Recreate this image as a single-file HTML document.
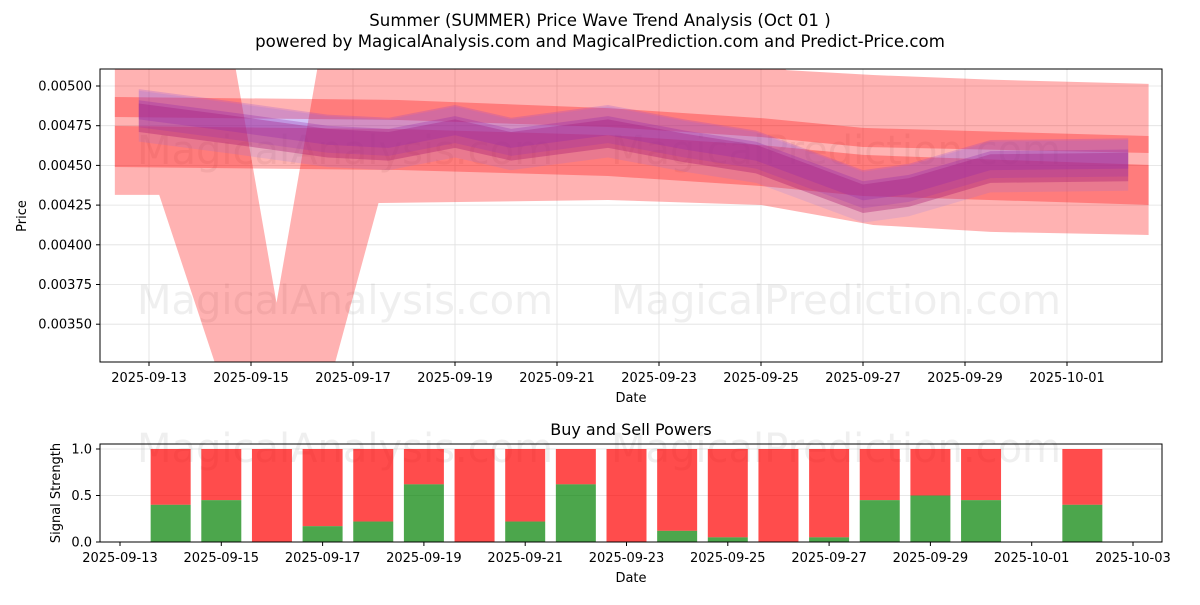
<!DOCTYPE html>
<html><head><meta charset="utf-8"><style>
body{margin:0;background:#fff;}
svg text{font-family:"DejaVu Sans","Liberation Sans",sans-serif;}
</style></head><body>
<svg id="chart" width="1200" height="600" viewBox="0 0 1200 600" xmlns="http://www.w3.org/2000/svg">
<defs>
<clipPath id="topclip"><rect x="100" y="69" width="1062" height="293"/></clipPath>
</defs>
<rect width="1200" height="600" fill="#fff"/>
<text x="600" y="26" text-anchor="middle" font-size="16.6">Summer (SUMMER) Price Wave Trend Analysis (Oct 01 )</text>
<text x="600" y="47" text-anchor="middle" font-size="16.6">powered by MagicalAnalysis.com and MagicalPrediction.com and Predict-Price.com</text>
<g id="topPanel"></g>
<g id="bottomPanel"></g>
</svg>
<script>
// ---- price panel data ----
const priceTicks = [0.0050,0.00475,0.0045,0.00425,0.0040,0.00375,0.0035];
const priceTickLabels = ["0.00500","0.00475","0.00450","0.00425","0.00400","0.00375","0.00350"];
const dateTickDays = [0,2,4,6,8,10,12,14,16,18,20];
const dateTickLabels = ["2025-09-13","2025-09-15","2025-09-17","2025-09-19","2025-09-21","2025-09-23","2025-09-25","2025-09-27","2025-09-29","2025-10-01"];
// wide light band: outline (upper edge follows the V, lower edge follows its arms)
const wideUpperDays = [-0.67,1.65,2.5,3.35,9,12,12.5,14.2,16.5,19.6];
const wideUpper = [0.0052,0.0052,0.003635,0.0052,0.0052,0.0052,0.0051,0.005069,0.00504,0.005013];
const wideLowerDays = [19.6,16.5,14.2,12,9,4.5,3.6,1.35,0.2,-0.67];
const wideLower = [0.004062,0.004081,0.004125,0.004251,0.004282,0.004263,0.0032,0.0032,0.004314,0.004314];
// dark bands
const bandDays = [-0.67,4.9,9,12,14,19.6];
const band1Upper = [0.004931,0.004912,0.004861,0.004798,0.004736,0.004685];
const band1Lower = [0.004805,0.004786,0.004742,0.004679,0.004616,0.004578];
const band2Upper = [0.004748,0.004729,0.004691,0.004628,0.004566,0.004503];
const band2Lower = [0.00449,0.004471,0.004433,0.00437,0.004307,0.004251];
// wave center line
const waveDays = [-0.2,1.7,3.5,4.7,6,7.1,9,10.5,11.9,14,14.9,16.5,19.2];
const waveCenter = [0.00484,0.00476,0.00468,0.00466,0.00474,0.00466,0.00474,0.00465,0.00458,0.00433,0.00437,0.00452,0.00453];
// ---- signal panel data ----
const barDays = [1,2,3,4,5,6,7,8,9,10,11,12,13,14,15,16,17,19];
const buyPower = [0.4,0.45,0,0.17,0.22,0.62,0,0.22,0.62,0,0.12,0.05,0,0.05,0.45,0.5,0.45,0.4];
const sigTicks = [0,0.5,1.0];
const sigTickLabels = ["0.0","0.5","1.0"];
const sigDateLabels = ["2025-09-13","2025-09-15","2025-09-17","2025-09-19","2025-09-21","2025-09-23","2025-09-25","2025-09-27","2025-09-29","2025-10-01","2025-10-03"];

const NS="http://www.w3.org/2000/svg";
function mk(parent,tag,attrs,text){const e=document.createElementNS(NS,tag);for(const k in attrs)e.setAttribute(k,attrs[k]);if(text!==undefined)e.textContent=text;parent.appendChild(e);return e;}
const px=d=>149+51*d;
const py=v=>86+(0.005-v)/0.001*158.8;
const bx=d=>120+50.65*d;
const by=v=>542-v*93;

const topG=document.getElementById('topPanel');
dateTickDays.slice(0,10).forEach(d=>{const l=mk(topG,'line',{x1:px(d),x2:px(d),y1:69,y2:362,stroke:'#e0e0e0','stroke-width':0.8});

});
priceTicks.forEach(v=>{const l=mk(topG,'line',{x1:100,x2:1162,y1:py(v),y2:py(v),stroke:'#e0e0e0','stroke-width':0.8});

});
[[345,150],[836,150],[345,300],[836,300]].forEach((p,i)=>{const t=mk(topG,'text',{x:p[0],y:p[1]+14,'text-anchor':'middle','font-size':40,fill:'rgba(128,128,128,0.13)'},i%2?'MagicalPrediction.com':'MagicalAnalysis.com');

});
const g=mk(topG,'g',{'clip-path':'url(#topclip)'});
function bandPath(days,up,lo){let s='';days.forEach((d,i)=>{s+=(i?'L':'M')+px(d)+','+py(up[i]);});for(let i=days.length-1;i>=0;i--)s+='L'+px(days[i])+','+py(lo[i]);return s+'Z';}
let ws='';wideUpperDays.forEach((d,i)=>{ws+=(i?'L':'M')+px(d)+','+py(wideUpper[i]);});
wideLowerDays.forEach((d,i)=>{ws+='L'+px(d)+','+py(wideLower[i]);});
let p=mk(g,'path',{d:ws+'Z',fill:'rgba(255,0,0,0.3)'});


p=mk(g,'path',{d:bandPath(bandDays,band1Upper,band1Lower),fill:'rgba(255,0,0,0.3)'});


p=mk(g,'path',{d:bandPath(bandDays,band2Upper,band2Lower),fill:'rgba(255,0,0,0.3)'});


const layers=[[0.00016,-0.00003,'rgba(110,110,255,0.15)'],[0.00012,0.00002,'rgba(130,60,220,0.22)'],[0.00009,-0.00004,'rgba(170,20,110,0.35)'],[0.00006,0.00001,'rgba(150,40,170,0.3)']];
layers.forEach(L=>{const up=waveCenter.map(v=>v+L[1]+L[0]);const lo=waveCenter.map(v=>v+L[1]-L[0]);
const w=mk(g,'path',{d:bandPath(waveDays,up,lo),fill:L[2]});

});
mk(topG,'rect',{x:100,y:69,width:1062,height:293,fill:'none',stroke:'#000','stroke-width':1});
priceTicks.forEach((v,i)=>{mk(topG,'line',{x1:96,x2:100,y1:py(v),y2:py(v),stroke:'#000'});
const t=mk(topG,'text',{x:92,y:py(v)+4.5,'text-anchor':'end','font-size':13},priceTickLabels[i]);

});
dateTickLabels.forEach((lab,i)=>{const d=dateTickDays[i];mk(topG,'line',{x1:px(d),x2:px(d),y1:362,y2:366,stroke:'#000'});
const t=mk(topG,'text',{x:px(d),y:382,'text-anchor':'middle','font-size':13},lab);

});
let t=mk(topG,'text',{x:631,y:402,'text-anchor':'middle','font-size':13},'Date');


t=mk(topG,'text',{x:26,y:216,'text-anchor':'middle','font-size':13,transform:'rotate(-90 26 216)'},'Price');



const bot=document.getElementById('bottomPanel');
t=mk(bot,'text',{x:631,y:435,'text-anchor':'middle','font-size':16},'Buy and Sell Powers');


sigTicks.forEach(v=>{const l=mk(bot,'line',{x1:100,x2:1162,y1:by(v),y2:by(v),stroke:'#e0e0e0','stroke-width':0.8});

});
[[345,448],[836,448]].forEach((q,i)=>{const w=mk(bot,'text',{x:q[0],y:q[1]+14,'text-anchor':'middle','font-size':40,fill:'rgba(128,128,128,0.13)'},i?'MagicalPrediction.com':'MagicalAnalysis.com');

});
barDays.forEach((d,i)=>{const x=bx(d)-20;
const s=mk(bot,'rect',{x:x,y:by(1),width:40,height:by(buyPower[i])-by(1),fill:'rgba(255,0,0,0.7)'});


const b=mk(bot,'rect',{x:x,y:by(buyPower[i]),width:40,height:by(0)-by(buyPower[i]),fill:'rgba(0,128,0,0.7)'});

});
mk(bot,'rect',{x:100,y:444,width:1062,height:98,fill:'none',stroke:'#000','stroke-width':1});
sigTicks.forEach((v,i)=>{mk(bot,'line',{x1:96,x2:100,y1:by(v),y2:by(v),stroke:'#000'});
const l=mk(bot,'text',{x:92,y:by(v)+4.5,'text-anchor':'end','font-size':13},sigTickLabels[i]);

});
sigDateLabels.forEach((lab,i)=>{const x=bx(i*2);mk(bot,'line',{x1:x,x2:x,y1:542,y2:546,stroke:'#000'});
const l=mk(bot,'text',{x:x,y:562,'text-anchor':'middle','font-size':13},lab);

});
t=mk(bot,'text',{x:631,y:582,'text-anchor':'middle','font-size':13},'Date');


t=mk(bot,'text',{x:60,y:493,'text-anchor':'middle','font-size':13,transform:'rotate(-90 60 493)'},'Signal Strength');


</script>
</body></html>
